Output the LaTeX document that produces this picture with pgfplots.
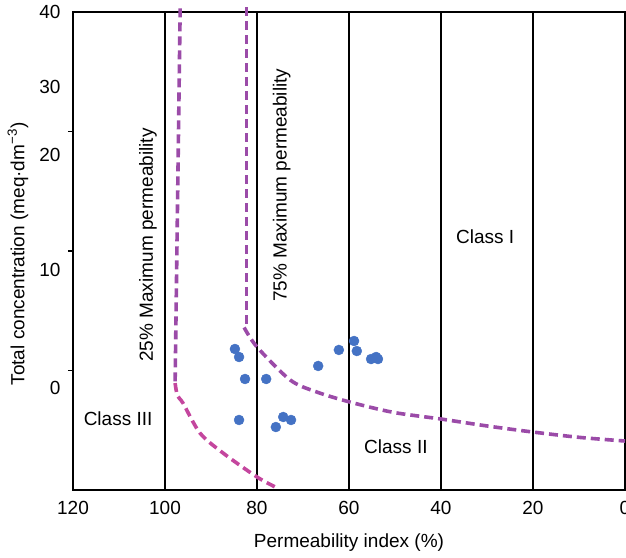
\documentclass[border=0pt]{standalone}
\usepackage{pgfplots}
\pgfplotsset{compat=1.18}
\usepackage{fontspec}
\setmainfont{Liberation Sans}
\definecolor{dotblue}{HTML}{4472C4}
\definecolor{curvepurple}{HTML}{9B4BA8}
\definecolor{curvepink}{HTML}{C4469E}
\begin{document}
\begin{tikzpicture}[font=\fontsize{19bp}{23bp}\selectfont]
\path[use as bounding box] (0bp,0bp) rectangle (626bp,-558bp);
\begin{axis}[
  at={(73bp,-490bp)}, anchor=south west,
  scale only axis, width=552bp, height=478bp,
  xmin=0, xmax=120, x dir=reverse, ymin=0, ymax=40,
  clip=false,
  axis line style={black, line width=1.4bp},
  xtick={0,20,...,120},
  xmajorgrids, grid style={black, line width=1.6bp},
  major x tick style={draw=none},
  xticklabel style={yshift=-3bp},
  ytick={10,20,30}, yticklabels={},
  ytick pos=left, tick align=outside,
  major y tick style={black, line width=1.2bp},
  major tick length=5bp,
  extra y ticks={8.5,18.4,28.0,33.7,40},
  extra y tick labels={0,10,20,30,40},
  extra y tick style={major tick length=0pt, yticklabel style={xshift=-9bp}},
  /pgf/number format/assume math mode=true,
  ticklabel style={font=\fontsize{19bp}{23bp}\selectfont},
]
% bottom axis emphasised
\draw[black, line width=2.6bp] (rel axis cs:0,0) -- (rel axis cs:1,0);

% 25% maximum permeability curve
\addplot[curvepurple, line width=3.6bp, dash pattern=on 9bp off 5bp]
  coordinates {(96.7,40.3) (97.8,8.95)};
\addplot[curvepink, line width=3.6bp, dash pattern=on 9bp off 5bp, smooth]
  coordinates {(97.8,8.95) (97.3,7.9) (96.1,7.28) (92.4,4.77) (87.4,3.10) (80.0,1.09) (75.6,0.17)};

% 75% maximum permeability curve
\addplot[curvepurple, line width=3.6bp, dash pattern=on 9bp off 5bp]
  coordinates {(82.3,40.4) (82.3,13.81)};
\addplot[curvepurple, line width=3.6bp, dash pattern=on 9bp off 5bp, smooth]
  coordinates {(82.8,13.6) (80.0,11.97) (72.8,9.21) (67.0,8.2) (59.8,7.36) (50.4,6.5) (40.0,5.94) (30.0,5.36) (20.0,4.85) (9.8,4.4) (0,4.10)};

% samples
\addplot[only marks, mark=*, mark size=5bp, mark options={draw=dotblue, fill=dotblue}]
  coordinates {
  (84.8,11.80) (83.9,11.13) (82.6,9.29) (78.0,9.29)
  (83.9,5.86) (74.3,6.11) (72.6,5.86) (75.9,5.27)
  (66.7,10.38) (62.2,11.72) (58.9,12.47) (58.3,11.63)
  (55.2,10.96) (54.1,11.13) (53.7,10.96)
  };

\node[rotate=90] at (axis cs:103.7,20.5) {25\% Maximum permeability};
\node[rotate=90] at (axis cs:74.6,25.5) {75\% Maximum permeability};
\node at (axis cs:30.4,21.2) {Class I};
\node at (axis cs:49.8,3.6) {Class II};
\node at (axis cs:110.2,6.0) {Class III};

\node at (rel axis cs:0.5,0) [yshift=-53bp] {Permeability index (\%)};
\node[xshift=-55bp, yshift=-3bp, rotate=90] at (rel axis cs:0,0.5) {Total concentration (meq·dm\textsuperscript{−3})};
\end{axis}
\end{tikzpicture}
\end{document}
